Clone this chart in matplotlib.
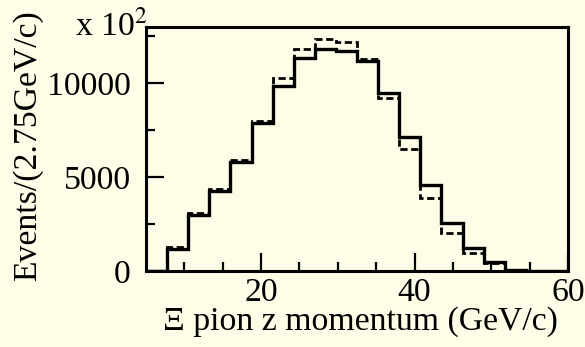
import matplotlib
matplotlib.use("Agg")
import matplotlib.pyplot as plt

# bin edges (GeV/c), 2.75 GeV/c wide
edges = [5.0, 7.75, 10.5, 13.25, 16.0, 18.75, 21.5, 24.25, 27.0, 29.75, 32.5,
         35.25, 38.0, 40.75, 43.5, 46.25, 49.0, 51.75, 54.5, 57.25, 60.0]

# events per bin
solid_counts = [0, 1150, 2990, 4240, 5800, 7860, 9860, 11310, 11810, 11700,
                11150, 9490, 7120, 4560, 2550, 1200, 460, 60, 0, 0]
dashed_counts = [0, 1250, 3070, 4340, 5900, 8000, 10280, 11810, 12340, 12200,
                 11250, 9200, 6500, 3870, 2000, 960, 410, 50, 0, 0]

x_major = [20, 40, 60]
x_minor = [10, 15, 25, 30, 35, 45, 50, 55]
y_major = [0, 5000, 10000]
y_minor = [2500, 7500, 12500]

bg = "#fefee8"
fs = 24.3
plt.rcParams["font.family"] = ["Liberation Serif", "DejaVu Serif"]
plt.rcParams["mathtext.fontset"] = "stix"

fig = plt.figure(figsize=(5.85, 3.47), dpi=100, facecolor=bg)
ax = fig.add_axes([0.2496, 0.219, 0.971 - 0.2496, 0.9236 - 0.219])
ax.set_facecolor(bg)

ax.stairs(dashed_counts, edges, color="black", linewidth=2.0,
          linestyle=(0, (2.6, 1.3)))
ax.stairs(solid_counts, edges, color="black", linewidth=2.4)

ax.set_xlim(5, 60)
ax.set_ylim(0, 13000)

ax.set_xticks(x_major)
ax.set_xticks(x_minor, minor=True)
ax.set_yticks(y_major)
ax.set_yticks(y_minor, minor=True)

for s in ax.spines.values():
    s.set_linewidth(2.2)

ax.tick_params(axis="both", which="major", direction="in", length=13,
               width=1.6, labelsize=fs, pad=11)
ax.tick_params(axis="both", which="minor", direction="in", length=6.5,
               width=1.6)
ax.tick_params(axis="x", which="major", pad=5)
ax.tick_params(top=False, right=False, which="both")

ax.set_xlabel("Ξ pion z momentum (GeV/c)", fontsize=fs, loc="right")
ax.xaxis.set_label_coords(0.976, -0.145)
ax.set_ylabel("Events/(2.75GeV/c)", fontsize=fs, loc="top")
ax.yaxis.set_label_coords(-0.245, 1.065)

fig.text(0.128, 0.895, r"x 10$^{2}$", fontsize=fs)

fig.savefig("out.png", dpi=100, facecolor=bg)
